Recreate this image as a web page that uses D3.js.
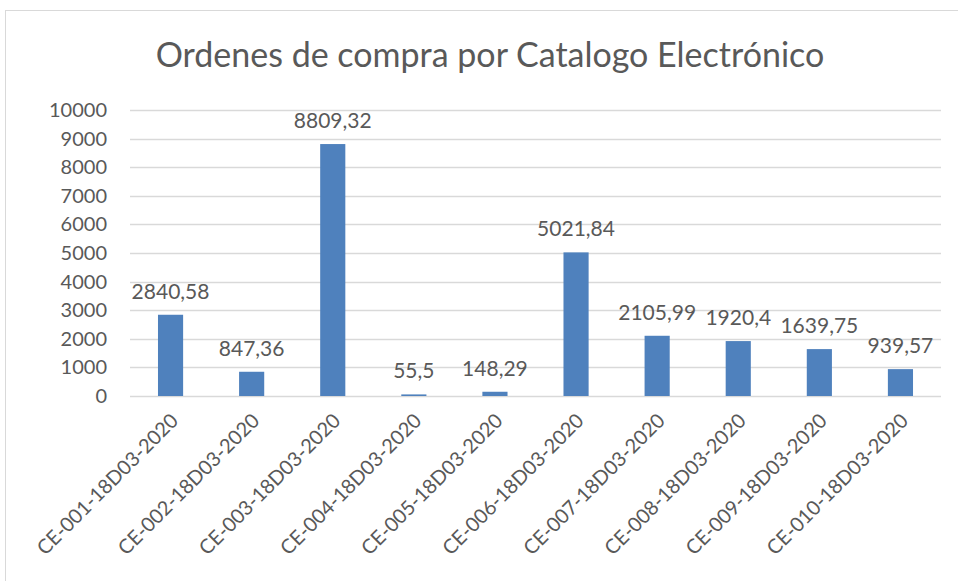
<!DOCTYPE html>
<html>
<head>
<meta charset="utf-8">
<script src="https://cdnjs.cloudflare.com/ajax/libs/d3/7.8.5/d3.min.js"></script>
<style>
  body { margin: 0; background: #fff; }
  text { font-family: Lato, "Open Sans", sans-serif; fill: #595959; }
</style>
</head>
<body>
<div id="chart-area"></div>
<script>
var categories = ["CE-001-18D03-2020", "CE-002-18D03-2020", "CE-003-18D03-2020", "CE-004-18D03-2020", "CE-005-18D03-2020",
                  "CE-006-18D03-2020", "CE-007-18D03-2020", "CE-008-18D03-2020", "CE-009-18D03-2020", "CE-010-18D03-2020"]
var values = [2840.58, 847.36, 8809.32, 55.5, 148.29, 5021.84, 2105.99, 1920.4, 1639.75, 939.57]
var labels = ["2840,58", "847,36", "8809,32", "55,5", "148,29", "5021,84", "2105,99", "1920,4", "1639,75", "939,57"]
var yTicks = [0, 1000, 2000, 3000, 4000, 5000, 6000, 7000, 8000, 9000, 10000]

var margin = {top: 110, right: 17, bottom: 185, left: 130}
var width = 958 - margin.left - margin.right
var height = 581 - margin.top - margin.bottom

var svg = d3.select("#chart-area")
  .append("svg")
  .attr("width", 958)
  .attr("height", 581)

// chart frame
svg.append("rect")
  .attr("x", 5.5).attr("y", 10.5)
  .attr("width", 958).attr("height", 600)
  .attr("fill", "none")
  .attr("stroke", "#d9d9d9")

svg.append("text")
  .attr("x", 490)
  .attr("y", 67)
  .attr("text-anchor", "middle")
  .attr("font-size", "34px")
  .text("Ordenes de compra por Catalogo Electrónico")

var g = svg.append("g")
  .attr("transform", `translate(${margin.left}, ${margin.top})`)

var y = d3.scaleLinear().domain([0, 10000]).range([height, 0])
var x = d3.scaleBand().domain(categories).range([0, width]).paddingInner(0.69).paddingOuter(0.345)

// gridlines
g.selectAll(".grid")
  .data(yTicks)
  .enter().append("line")
  .attr("x1", 0).attr("x2", width)
  .attr("y1", d => Math.round(y(d)) + 0.5)
  .attr("y2", d => Math.round(y(d)) + 0.5)
  .attr("stroke", "#d9d9d9")
  .attr("stroke-width", 1.5)

var leftAxis = d3.axisLeft(y).tickValues(yTicks).tickSize(0).tickPadding(23).tickFormat(d3.format("d"))
g.append("g").attr("class", "left axis").call(leftAxis)
  .call(a => a.select(".domain").remove())
  .selectAll("text")
  .attr("font-size", "20px")
  .style("fill", "#595959")
  .style("font-family", "Lato, sans-serif")

g.selectAll("rect.bar")
  .data(values)
  .enter().append("rect")
  .attr("class", "bar")
  .attr("x", (d, i) => x(categories[i]))
  .attr("y", d => y(d))
  .attr("width", x.bandwidth())
  .attr("height", d => height - y(d))
  .attr("fill", "#4f81bd")

g.selectAll(".lbl")
  .data(values)
  .enter().append("text")
  .attr("class", "lbl")
  .attr("x", (d, i) => x(categories[i]) + x.bandwidth() / 2)
  .attr("y", d => y(d) - 16)
  .attr("text-anchor", "middle")
  .attr("font-size", "21px")
  .text((d, i) => labels[i])

var bottomAxis = d3.axisBottom(x).tickSize(0).tickPadding(0)
g.append("g")
  .attr("class", "bottom axis")
  .attr("transform", `translate(0, ${height})`)
  .call(bottomAxis)
  .call(a => a.select(".domain").remove())
  .selectAll("text")
  .attr("font-size", "20px")
  .style("fill", "#595959")
  .style("font-family", "Lato, sans-serif")
  .attr("text-anchor", "end")
  .attr("dy", "0.35em")
  .attr("transform", "translate(4, 21) rotate(-45)")
</script>
</body>
</html>
